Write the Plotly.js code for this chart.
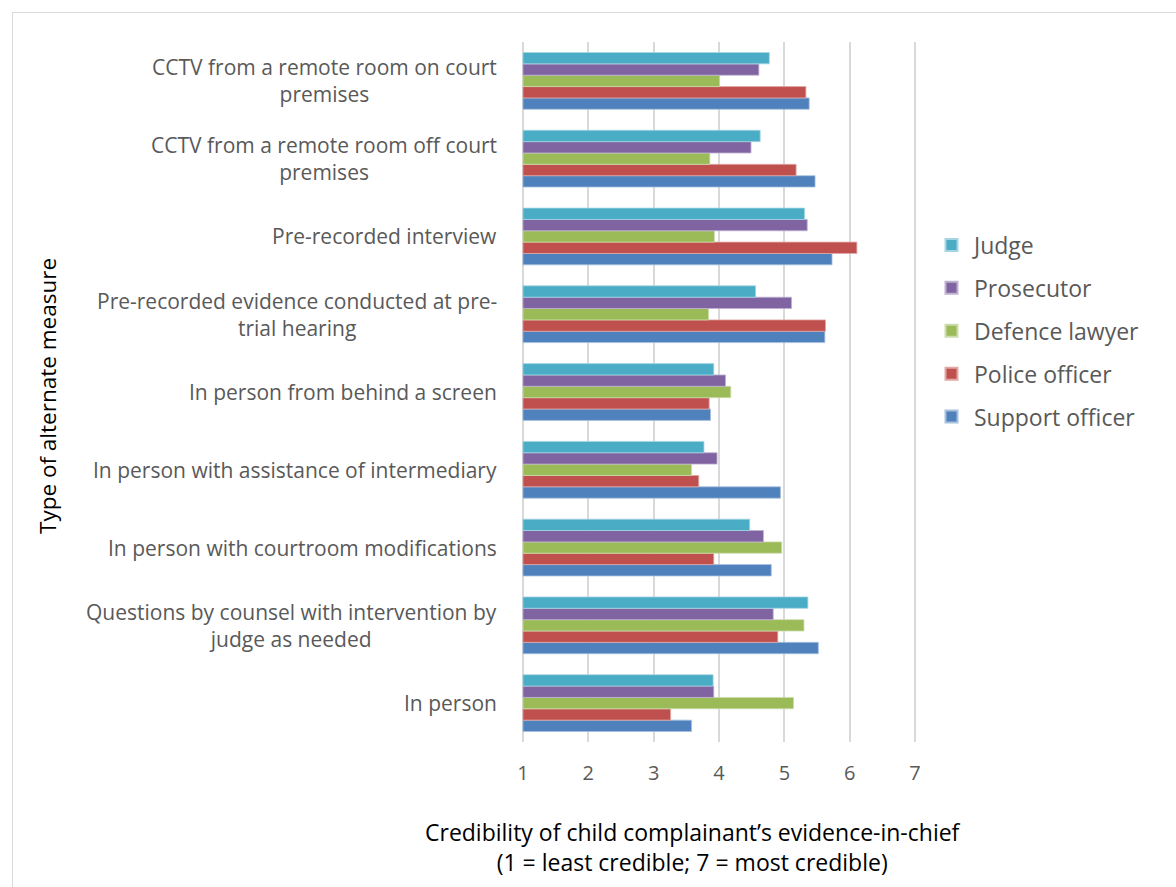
<!DOCTYPE html>
<html><head><meta charset="utf-8">
<script src="https://cdn.plot.ly/plotly-3.0.1.min.js"></script>
<style>
body{margin:0;overflow:hidden;background:#fff}
#frame{position:absolute;left:12px;top:12px;width:1200px;height:1000px;border:1px solid #d9d9d9;pointer-events:none}
#chart{width:1176px;height:887px}
</style></head><body>
<div id="chart"></div><div id="frame"></div>
<script>
// categories bottom to top
const categories = [
  "In person",
  "Questions by counsel with intervention by<br>judge as needed",
  "In person with courtroom modifications",
  "In person with assistance of intermediary",
  "In person from behind a screen",
  "Pre-recorded evidence conducted at pre-<br>trial hearing",
  "Pre-recorded interview",
  "CCTV from a remote room off court<br>premises",
  "CCTV from a remote room on court<br>premises"
];
const supportOfficer = [3.58, 5.52, 4.80, 4.94, 3.87, 5.62, 5.73, 5.47, 5.38];
const policeOfficer  = [3.26, 4.90, 3.92, 3.69, 3.85, 5.63, 6.11, 5.18, 5.33];
const defenceLawyer  = [5.14, 5.30, 4.96, 3.58, 4.18, 3.84, 3.93, 3.86, 4.01];
const prosecutor     = [3.92, 4.83, 4.68, 3.97, 4.10, 5.11, 5.35, 4.49, 4.61];
const judge          = [3.91, 5.36, 4.47, 3.77, 3.92, 4.56, 5.31, 4.63, 4.77];
const seriesNames = ["Support officer", "Police officer", "Defence lawyer", "Prosecutor", "Judge"];
const xTicks = [1, 2, 3, 4, 5, 6, 7];
const axisMin = 1;

const colors = ["#4F81BD", "#C0504D", "#9BBB59", "#8064A2", "#4BACC6"];
const lines = ["#a7c0de", "#e0a8a6", "#cddcac", "#bfb1d0", "#a5d5e2"];
const seriesVals = [supportOfficer, policeOfficer, defenceLawyer, prosecutor, judge];
const font = "'Open Sans', sans-serif";

const traces = seriesVals.map((v, i) => ({
  type: "bar", orientation: "h", name: seriesNames[i], legendgroup: "g" + i,
  legendrank: 5 - i,
  base: axisMin, x: v.map(d => d - axisMin), y: categories,
  customdata: v,
  marker: {color: colors[i], line: {color: lines[i], width: 0.8}},
  hovertemplate: "%{customdata}<extra>%{fullData.name}</extra>"
}));

const annotations = categories.map(c => ({
  xref: "paper", yref: "y", x: 0, y: c, xanchor: "right", yanchor: "middle",
  xshift: -22, text: c, showarrow: false, align: "center",
  font: {family: font, size: 21, color: "#595959"}
}));
annotations.push({
  xref: "paper", yref: "paper", x: (693 - 521) / 396, y: 0, yshift: -105,
  xanchor: "center", yanchor: "middle", showarrow: false, align: "center",
  text: "Credibility of child complainant’s evidence-in-chief<br>(1 = least credible; 7 = most credible)",
  font: {family: font, size: 23, color: "#000"}
});
annotations.push({
  xref: "paper", yref: "paper", x: (47 - 521) / 396, y: (742 - 396) / 700,
  xanchor: "center", yanchor: "middle", showarrow: false, textangle: -90,
  text: "Type of alternate measure",
  font: {family: font, size: 22.5, color: "#000"}
});

const layout = {
  width: 1176, height: 887,
  margin: {l: 521, r: 259, t: 42, b: 145},
  paper_bgcolor: "#fff", plot_bgcolor: "#fff",
  barmode: "group", bargap: 0.27, bargroupgap: 0,
  showlegend: true,
  legend: {
    x: 1, xanchor: "left", xref: "paper", y: (742 - 331) / 700, yanchor: "middle",
    traceorder: "grouped", font: {family: font, size: 23, color: "#595959"},
    itemsizing: "constant", tracegroupgap: 10, itemwidth: 35
  },
  xaxis: {
    range: [0.97, 7.03], tickvals: xTicks, ticktext: xTicks.map(String),
    showgrid: true, gridcolor: "#d9d9d9", gridwidth: 1.5,
    zeroline: false, showline: false, ticks: "",
    ticklabelstandoff: 17,
    tickfont: {family: font, size: 20, color: "#595959"}
  },
  yaxis: {
    type: "category", categoryorder: "array", categoryarray: categories,
    showticklabels: false, showgrid: false, zeroline: false, ticks: "",
    showline: false
  },
  annotations: annotations
};
Plotly.newPlot("chart", traces, layout, {displayModeBar: false}).then(gd => {
  // shift legend horizontally to the reference position
  const lg = gd.querySelector(".legend");
  if (lg) {
    const t = lg.getAttribute("transform");
    const m = /translate\(([-\d.]+),\s*([-\d.]+)\)/.exec(t);
    if (m) lg.setAttribute("transform", `translate(${parseFloat(m[1]) + 12},${m[2]})`);
  }
});
</script></body></html>
